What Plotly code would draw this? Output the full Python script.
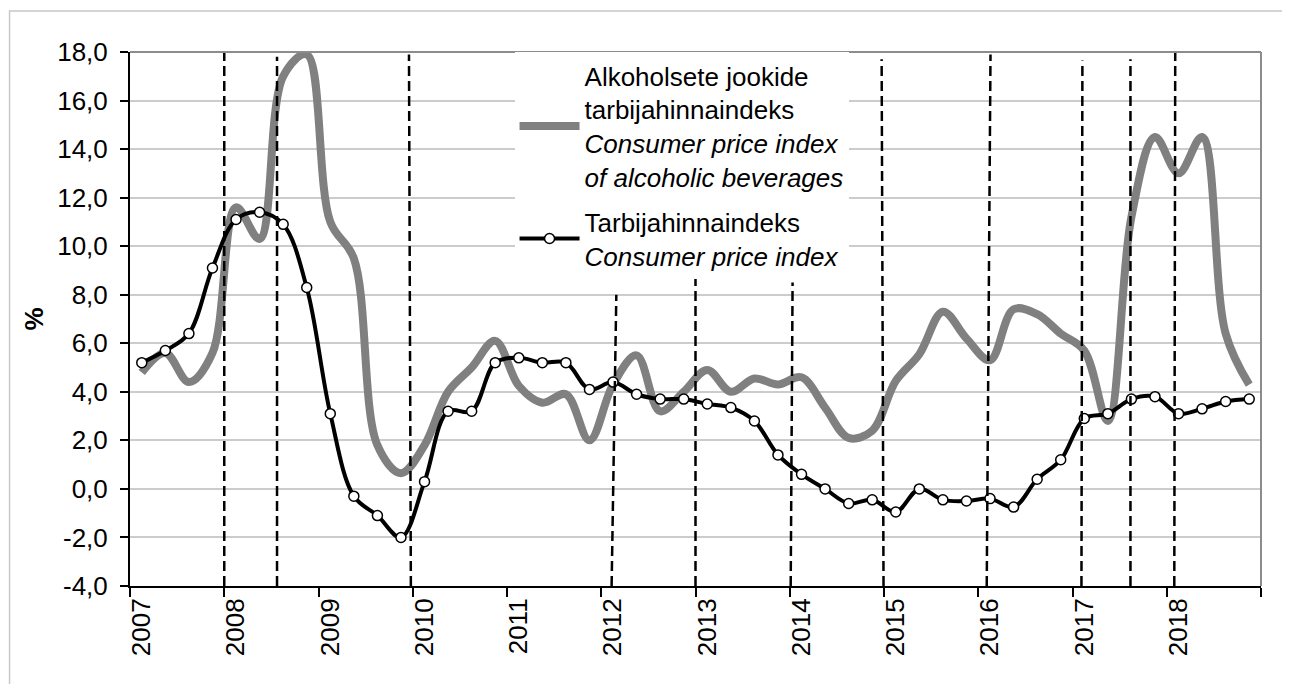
import plotly.graph_objects as go

# ---------------- data ----------------
years = list(range(2007, 2019))
quarters = [f"{y}Q{q}" for y in years for q in (1, 2, 3, 4)]

# Consumer price index of alcoholic beverages, % (quarterly)
alcohol_cpi = [
    4.8, 5.6, 4.4, 5.6,      # 2007
    11.6, 10.3, 17.0, 17.9,  # 2008
    11.0, 9.5, 1.8, 0.65,    # 2009
    1.8, 4.0, 5.0, 6.1,      # 2010
    4.25, 3.55, 3.9, 2.0,    # 2011
    4.3, 5.5, 3.2, 4.0,      # 2012
    4.9, 4.0, 4.55, 4.3,     # 2013
    4.6, 3.35, 2.1, 2.4,     # 2014
    4.45, 5.55, 7.3, 6.2,    # 2015
    5.3, 7.4, 7.2, 6.4,      # 2016
    5.7, 2.8, 11.2, 14.5,    # 2017
    13.0, 14.5, 6.4, 4.3,    # 2018
]

# Consumer price index, % (quarterly)
cpi = [
    5.2, 5.7, 6.4, 9.1,      # 2007
    11.1, 11.4, 10.9, 8.3,   # 2008
    3.1, -0.3, -1.1, -2.0,   # 2009
    0.3, 3.2, 3.2, 5.2,      # 2010
    5.4, 5.2, 5.2, 4.1,      # 2011
    4.4, 3.9, 3.7, 3.7,      # 2012
    3.5, 3.35, 2.8, 1.4,     # 2013
    0.6, 0.0, -0.6, -0.45,   # 2014
    -0.95, 0.0, -0.45, -0.5, # 2015
    -0.4, -0.75, 0.4, 1.2,   # 2016
    2.9, 3.1, 3.7, 3.8,      # 2017
    3.1, 3.3, 3.6, 3.7,      # 2018
]

y_ticks = [-4, -2, 0, 2, 4, 6, 8, 10, 12, 14, 16, 18]
y_tick_labels = ["-4,0", "-2,0", "0,0", "2,0", "4,0", "6,0", "8,0",
                 "10,0", "12,0", "14,0", "16,0", "18,0"]
x_tick_labels = [str(y) for y in years]

# event markers (dashed verticals): (x at top, x at bottom, top value)
event_lines = [
    (2008.00, 2008.00, 18.0),
    (2008.56, 2008.56, 17.8),
    (2009.96, 2009.98, 17.9),
    (2012.16, 2012.11, 8.0),
    (2013.00, 2013.00, 8.7),
    (2014.03, 2014.01, 8.5),
    (2014.975, 2014.995, 17.7),
    (2016.13, 2016.09, 17.9),
    (2017.105, 2017.095, 17.65),
    (2017.615, 2017.615, 17.7),
    (2018.09, 2018.08, 18.0),
]

# ---------------- figure ----------------
def qpos(label):
    y, q = label.split("Q")
    return int(y) + (int(q) - 0.5) / 4.0

xq = [qpos(q) for q in quarters]

FONT = "Liberation Sans, Arial, sans-serif"

fig = go.Figure()
fig.add_trace(go.Scatter(
    x=xq, y=alcohol_cpi, mode="lines",
    line=dict(color="#808080", width=8, shape="spline", smoothing=1.0),
    name="Alkoholsete jookide<br>tarbijahinnaindeks<br><i>Consumer price index</i><br><i>of alcoholic beverages</i>",
    legendgroup="a",
))
fig.add_trace(go.Scatter(
    x=xq, y=cpi, mode="lines+markers",
    line=dict(color="black", width=4, shape="spline", smoothing=1.0),
    marker=dict(size=10, color="white", line=dict(color="black", width=1.5)),
    name="Tarbijahinnaindeks<br><i>Consumer price index</i>",
    legendgroup="b",
))

shapes = []
for xt, xb, yt in event_lines:
    shapes.append(dict(type="line", xref="x", yref="y", x0=xb, y0=-4, x1=xt, y1=yt,
                       line=dict(color="black", width=2.5, dash="10px,5px"), layer="above"))
# plot-area top and right border (gray)
shapes.append(dict(type="line", xref="paper", yref="paper", x0=0, y0=1, x1=1, y1=1,
                   line=dict(color="#8c8c8c", width=2)))
shapes.append(dict(type="line", xref="paper", yref="paper", x0=1, y0=0, x1=1, y1=1,
                   line=dict(color="#8c8c8c", width=2)))
# outer chart-area border (left and top edges visible)
shapes.append(dict(type="rect", xref="paper", yref="paper", x0=-0.1065, y0=-0.5, x1=1.3, y1=1.0768,
                   line=dict(color="#c8c8c8", width=1.5)))

fig.update_layout(
    width=1290, height=684,
    # page body has an 8px margin; compensate so the plot area sits at x 130-1261, y 52-586
    margin=dict(l=122, r=37, t=44, b=106),
    paper_bgcolor="white", plot_bgcolor="white",
    font=dict(family=FONT, size=26, color="black"),
    shapes=shapes,
    showlegend=True,
    legend=dict(
        x=0.34, y=1.0, xanchor="left", yanchor="top",
        bgcolor="white", borderwidth=0,
        font=dict(family=FONT, size=26, color="black"),
        itemwidth=60, tracegroupgap=8, traceorder="grouped", valign="middle",
    ),
    xaxis=dict(
        range=[2007, 2019], showgrid=False, zeroline=False,
        tickmode="array", tickvals=[y + 0.125 for y in years], ticktext=x_tick_labels,
        tickangle=-90, ticks="", tickfont=dict(size=26, family=FONT, color="black"),
        showline=True, linecolor="black", linewidth=2,
        minor=dict(tickmode="array", tickvals=list(range(2007, 2020)), ticks="outside",
                   ticklen=9, tickwidth=1.5, tickcolor="black", showgrid=False),
    ),
    yaxis=dict(
        range=[-4, 18], tickmode="array", tickvals=y_ticks, ticktext=y_tick_labels,
        showgrid=True, gridcolor="#cccccc", gridwidth=1.5, zeroline=False,
        showline=True, linecolor="black", linewidth=2,
        ticks="outside", ticklen=8, tickwidth=1.5, tickcolor="black",
        ticklabelstandoff=7,
        tickfont=dict(size=26, family=FONT, color="black"),
        title=dict(text="<b>%</b>", standoff=6, font=dict(size=26, family=FONT, color="black")),
    ),
)

fig.write_html("out.html")
